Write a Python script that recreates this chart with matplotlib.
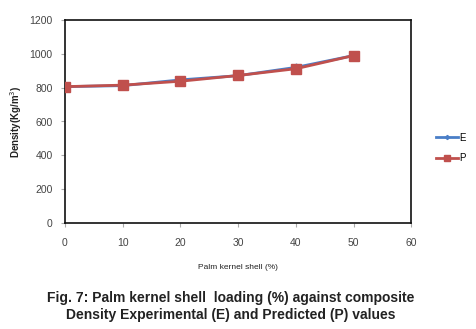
import matplotlib
matplotlib.use("Agg")
import matplotlib.pyplot as plt

loading = [0, 10, 20, 30, 40, 50]
density_E = [806, 812, 846, 871, 920, 990]
density_P = [806, 815, 838, 872, 912, 990]
x_ticks = [0, 10, 20, 30, 40, 50, 60]
y_ticks = [0, 200, 400, 600, 800, 1000, 1200]

plt.rcParams['font.family'] = ['Liberation Sans', 'DejaVu Sans']

fig = plt.figure(figsize=(4.76, 3.29), dpi=100)
ax = fig.add_axes([65/476, 1 - 223/329, (411.5 - 65)/476, (223 - 20)/329])

ax.plot(loading, density_E, color='#4A7EC7', lw=2, marker='D', ms=3.5, label='E', zorder=2)
ax.plot(loading, density_P, color='#C0504D', lw=2, marker='s', ms=7, label='P', zorder=3)

ax.set_xlim(0, 60)
ax.set_ylim(0, 1200)
ax.set_xticks(x_ticks)
ax.set_yticks(y_ticks)
ax.tick_params(axis='both', labelsize=7.5, colors='#aaaaaa', labelcolor='#444444', length=3, width=0.8)
ax.tick_params(axis='x', pad=8)
ax.tick_params(axis='y', pad=6)
for s in ax.spines.values():
    s.set_color('#111111')
    s.set_linewidth(1.2)

ax.set_xlabel('Palm kernel shell (%)', fontsize=6, labelpad=11, color='#222222')
ax.set_ylabel('Density(Kg/m$^3$)', fontsize=7, fontweight='bold', color='#222222', labelpad=4)

ax.legend(loc='center left', bbox_to_anchor=(1.045, 0.37), frameon=False, fontsize=7,
          handlelength=2.3, handletextpad=0.1, labelspacing=1.1, markerscale=0.6)

fig.text(230.5/476, 1 - 306.5/329, 'Fig. 7: Palm kernel shell  loading (%) against composite\nDensity Experimental (E) and Predicted (P) values',
         ha='center', va='center', fontsize=10.0, fontweight='bold', color='#222222', linespacing=1.3)

fig.savefig('out.png', dpi=100)
